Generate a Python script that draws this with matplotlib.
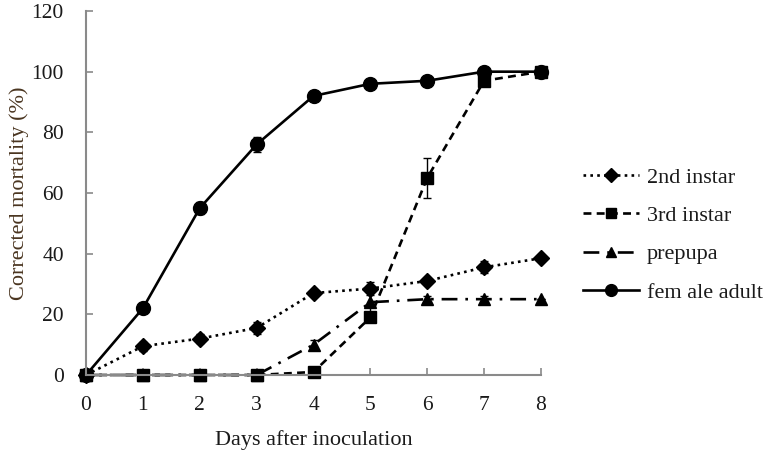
import matplotlib
matplotlib.use("Agg")
import matplotlib.pyplot as plt
from matplotlib.lines import Line2D

days = [0, 1, 2, 3, 4, 5, 6, 7, 8]
second_instar = [0, 9.5, 12, 15.5, 27, 28.5, 31, 35.5, 38.5]
second_err = [0, 1.5, 1.5, 2, 1, 2, 1, 2, 1]
third_instar = [0, 0, 0, 0, 1, 19, 65, 97, 100]
third_err = [0, 0, 0, 0, 0, 1, 6.5, 1.5, 0]
prepupa = [0, 0, 0, 0, 10, 24, 25, 25, 25]
prepupa_err = [0, 0, 0, 0, 1.5, 3.5, 1, 1, 0]
female_adult = [0, 22, 55, 76, 92, 96, 97, 100, 100]
female_err = [0, 1.5, 2, 2.5, 1, 1, 1, 1, 0]
labels = ["2nd instar", "3rd instar", "prepupa", "fem ale adult"]

plt.rcParams['font.family'] = ['Liberation Serif', 'DejaVu Serif']

fig = plt.figure(figsize=(7.64, 4.51), dpi=100)
ax = fig.add_axes([0.1126, 0.1685, 0.5955, 0.8071])

lw = 1.9
styles = [
    (second_instar, second_err, (0, (1, 1.6)), 'D', 8),
    (third_instar, third_err, (0, (3, 2)), 's', 9),
    (prepupa, prepupa_err, (0, (6, 3, 1, 3)), '^', 9),
    (female_adult, female_err, '-', 'o', 10),
]
handles = []
for (vals, err, ls, mk, ms), lab in zip(styles, labels):
    ax.errorbar(days, vals, yerr=err, color='black', ls=ls, lw=lw, marker=mk, ms=ms,
                capsize=3, elinewidth=1, capthick=1)
    handles.append(Line2D([], [], color='black', ls=ls, lw=lw, marker=mk, ms=ms * 0.85))

ax.set_xlim(0, 8)
ax.set_ylim(0, 120)
ax.set_xticks(days)
ax.set_yticks(range(0, 121, 20))
for s in ['top', 'right']:
    ax.spines[s].set_visible(False)
for s in ['left', 'bottom']:
    ax.spines[s].set_color('#8a8a8a')
    ax.spines[s].set_linewidth(1.5)
ax.tick_params(direction='in', color='#8a8a8a', width=1.2, length=5,
               labelsize=15.5, labelcolor='#1a1a1a')
ax.tick_params(axis='x', pad=15)
ax.tick_params(axis='y', pad=16)
ax.set_xlabel("Days after inoculation", fontsize=16, color='#1a1a1a', labelpad=11)
ax.set_ylabel("Corrected mortality (%)", fontsize=16, color='#4a3520', labelpad=2)
for line in ax.lines:
    line.set_clip_on(False)

leg = fig.legend(handles, labels, loc='center left', bbox_to_anchor=(0.749, 0.479),
                 frameon=False, fontsize=16, handlelength=2.5, labelspacing=0.8,
                 handletextpad=0.35, borderpad=0)
for t in leg.get_texts():
    t.set_color('#1a1a1a')

fig.savefig("out.png", dpi=100)
